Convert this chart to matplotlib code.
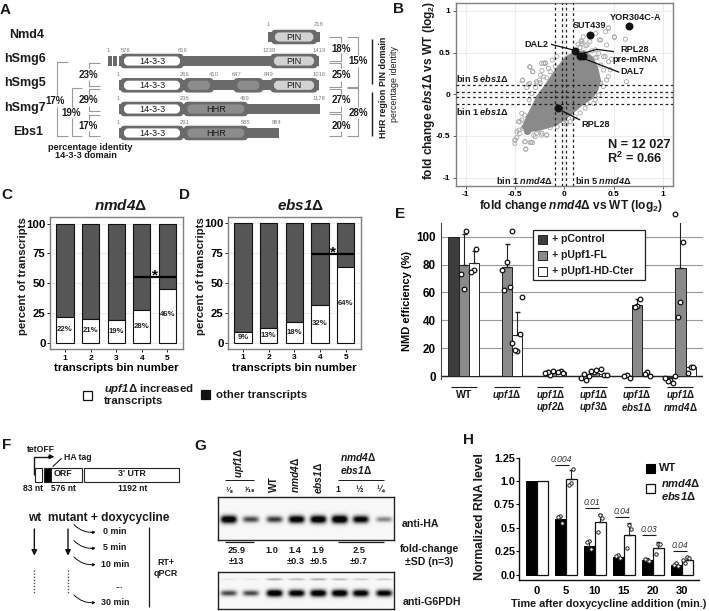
import numpy as np
import matplotlib
matplotlib.use('Agg')
import matplotlib.pyplot as plt
from matplotlib.patches import Rectangle, FancyBboxPatch, Polygon

plt.rcParams['font.family'] = ['Liberation Sans', 'DejaVu Sans']
plt.rcParams['mathtext.fontset'] = 'custom'
plt.rcParams['mathtext.rm'] = 'Liberation Sans:bold'
plt.rcParams['mathtext.it'] = 'Liberation Sans:italic:bold'
plt.rcParams['mathtext.bf'] = 'Liberation Sans:bold'
plt.rcParams['mathtext.cal'] = 'Liberation Sans:italic:bold'

W, H = 709, 611
DARK = '#6a6a6a'
# ---------- data ----------
# B
b_cloud_x = [-0.42,-0.37,-0.31,-0.27,-0.20,-0.13,-0.06,0.02,0.10,0.20,0.28,0.33,0.36,0.33,0.28,0.18,0.10,0.00,-0.10,-0.25,-0.36]
b_cloud_y = [-0.40,-0.27,-0.13,-0.03,0.08,0.20,0.32,0.44,0.49,0.51,0.44,0.32,0.16,0.05,-0.04,-0.12,-0.20,-0.30,-0.37,-0.42,-0.44]
b_out_x = [0.18,0.26,0.32,0.42,0.45,0.51,0.37,0.62,0.43,0.48,0.45,0.40,0.35,0.63,0.43,0.35,0.30,0.37,0.40,0.37,
           -0.23,-0.19,-0.35,-0.32,-0.16,-0.12,-0.42,-0.35,-0.28,-0.21,-0.38,-0.29,-0.33,-0.355,
           -0.50,-0.50,-0.48,-0.45,-0.46,-0.42,-0.38,-0.31,-0.23,-0.18,-0.39,-0.345,-0.32,-0.40,-0.28,-0.43,-0.40,-0.45,-0.345,-0.26,
           -0.07,-0.01,0.06,0.11,0.23,0.30,0.14,0.16,0.17,0.22,0.28,0.33,-0.25,-0.24,0.02,
           -0.345,-0.318,-0.21,-0.193,-0.226,-0.142,-0.091,-0.074,-0.426,-0.362,-0.277,-0.244,-0.176,0.447,0.508,0.355,0.193,0.18,0.23,0.162,0.315,0.416,0.467,0.447,0.365,0.396,0.315,
           -0.464,-0.43,-0.48,-0.497,-0.396,-0.335,-0.389,-0.294,-0.226,-0.176,-0.142,0.027,0.084,0.162,0.213,0.315]
b_out_y = [0.61,0.63,0.73,0.75,0.79,0.68,0.65,0.66,0.59,0.42,0.39,0.45,0.49,0.15,0.17,-0.01,0.09,0.13,0.29,0.35,
           0.37,0.37,0.33,0.27,0.31,0.41,0.17,0.13,0.15,0.21,0.08,0.08,0.01,-0.07,
           -0.59,-0.55,-0.52,-0.47,-0.43,-0.41,-0.44,-0.49,-0.49,-0.49,-0.66,-0.58,-0.58,-0.57,-0.47,-0.23,-0.25,-0.33,-0.35,-0.43,
           -0.39,-0.33,-0.33,-0.27,-0.11,-0.11,0.60,0.56,0.64,0.58,0.52,0.44,0.17,0.23,-0.36,
           0.324,0.271,0.372,0.376,0.283,0.271,0.331,0.451,0.163,0.112,0.132,0.136,0.196,0.796,0.688,0.652,0.688,0.631,0.592,0.556,0.532,0.451,0.292,0.211,0.136,0.091,0.436,
           -0.329,-0.309,-0.449,-0.549,-0.569,-0.576,-0.657,-0.509,-0.468,-0.489,-0.401,-0.341,-0.288,-0.225,-0.168,-0.068]
b_grey_x = [-0.38]
b_grey_y = [-0.44]
b_hi_x = [0.66,0.26,0.11,0.16,0.19,-0.065]
b_hi_y = [0.82,0.71,0.52,0.46,0.46,-0.17]
b_vlines = [-0.09,-0.027,0.02,0.088]
b_hlines = [0.116,0.024,-0.036,-0.12]
# C, D
bins = [1,2,3,4,5]
c_up = [22,20.5,19.5,28,45.5]
c_lab = ['22%','21%','19%','28%','46%']
d_up = [9,12.5,17.5,31.5,63.5]
d_lab = ['9%','13%','18%','32%','64%']
# E
e_groups = [['WT'],[r'$\mathcal{upf1}$Δ'],[r'$\mathcal{upf1}$Δ',r'$\mathcal{upf2}$Δ'],[r'$\mathcal{upf1}$Δ',r'$\mathcal{upf3}$Δ'],
            [r'$\mathcal{upf1}$Δ',r'$\mathcal{ebs1}$Δ'],[r'$\mathcal{upf1}$Δ',r'$\mathcal{nmd4}$Δ']]
e_ctrl = [100,0,0,0,0,-3]
e_fl   = [80,78,2.5,2.5,51,77.5]
e_hd   = [81,29.5,3,2,1.5,7]
e_fl_err = [102,95,None,None,55,112]
e_hd_err = [90,46,None,None,None,None]
e_ctrl_pts = [[],[],[],[2,-1,-2.8],[1,0.5,-1.5],[-3,-3.5,-4.5,-1,0]]
e_fl_pts = [[62.5,73,104],[82,62,64,76,104],[1,3,3.5,2.5],[3,3.5,4.5,0],[50,49.5,55],[53.5,42.5,96,116]]
e_hd_pts = [[76,75,91],[18,18.5,30,24,57],[3.5,3,2.5],[1,5.5,1],[3,2,0],[6.5,2.5,6.5]]
# G
g_lanes = [40,106,177,243,308,372,435,505]
g_ha = [0.95,0.55,0.6,0.9,0.95,1.0,0.85,0.35]
g_up = [0.05,0.05,0.25,0.2,0.25,0.2,0.14,0.14]
g_lo = [0.55,0.55,0.95,0.9,0.95,0.95,0.9,0.85]
# H
h_times = ['0','5','10','15','20','30']
h_wt = [1,0.59,0.31,0.19,0.16,0.10]
h_mut = [1,1.02,0.56,0.42,0.29,0.16]
h_wt_err = [None,0.63,0.36,0.21,0.18,0.12]
h_mut_err = [None,1.12,0.65,0.55,0.35,0.19]
h_wt_pts = [[],[0.63,0.62,0.55],[0.36,0.35,0.27],[0.21,0.20,0.18],[0.16,0.17,0.15],[0.12,0.10,0.09]]
h_mut_pts = [[],[0.98,0.96,1.13],[0.64,0.46,0.61],[0.53,0.28,0.49],[0.33,0.22,0.33],[0.19,0.12,0.18,0.16]]
h_p = ['0.004','0.01','0.04','0.03','0.04']

fig = plt.figure(figsize=(W/100, H/100), dpi=100, facecolor='white')

def axpx(l, t, r, b, **k):
    return fig.add_axes([l/W, 1-b/H, (r-l)/W, (b-t)/H], **k)

ov = fig.add_axes([0,0,1,1], zorder=10)
ov.set_xlim(0,W); ov.set_ylim(H,0); ov.axis('off'); ov.patch.set_alpha(0)

def T(x,y,s,size=7,weight='bold',ha='center',va='center',color='#1a1a1a',**k):
    return ov.text(x,y,s,fontsize=size,fontweight=weight,ha=ha,va=va,color=color,**k)
def L(xs,ys,color='#1a1a1a',lw=0.8,**k):
    ov.plot(xs,ys,color=color,lw=lw,solid_capstyle='butt',**k)

# panel letters
for s,x,y in [('A',5,10),('B',399,9),('C',7,195),('D',184,195),('E',400,214),('F',7,445),('G',200,446),('H',468,440)]:
    T(x,y,s,size=11)

# ---------- A ----------
Z = lambda v: v/3
def dom(x0,x1,yc,label,fc,pad=5):
    ov.add_patch(FancyBboxPatch((Z(x0)-pad+3,yc-6.5+2),Z(x1)-Z(x0)+2*pad-6,9,boxstyle='round,pad=0,rounding_size=3',
                 fc=DARK,ec=DARK,lw=4,zorder=2))
    ov.add_patch(FancyBboxPatch((Z(x0)+2,yc-2.5),Z(x1)-Z(x0)-4,5,boxstyle='round,pad=0,rounding_size=2.5',
                 fc=fc,ec=fc,lw=3,zorder=3))
    if label:
        T((Z(x0)+Z(x1))/2,yc,label,size=6.6,weight='normal',zorder=4)
def bar(x0,x1,yc):
    ov.add_patch(Rectangle((Z(x0),yc-5),Z(x1)-Z(x0),10,fc=DARK,ec='none',zorder=1))
y_rows = [37,61,85.3,109,133]
for name,x,y in [('Nmd4',26.5,35),('hSmg6',25,59),('hSmg5',25,83),('hSmg7',25,108),('Ebs1',28.5,132)]:
    T(x,y,name,size=9)
bar(805,960,y_rows[0]); dom(825,940,y_rows[0],'PIN','#d2d2d2')
bar(358,957,y_rows[1]); dom(372,540,y_rows[1],'14-3-3','white'); dom(822,942,y_rows[1],'PIN','#d2d2d2')
for a,b in [(325,335),(340,350)]:
    bar(a,b,y_rows[1])
bar(357,957,y_rows[2]); dom(372,540,y_rows[2],'14-3-3','white'); dom(563,630,y_rows[2],'','#8c8c8c'); dom(712,778,y_rows[2],'','#8c8c8c'); dom(822,942,y_rows[2],'PIN','#d2d2d2')
bar(358,960,y_rows[3]); dom(372,540,y_rows[3],'14-3-3','white'); dom(562,733,y_rows[3],'HHR','#8c8c8c')
bar(357,838,y_rows[4]); dom(372,540,y_rows[4],'14-3-3','white'); dom(562,733,y_rows[4],'HHR','#8c8c8c')
for y,items in [(24.5,[(806,'1'),(957,'218')]),(50,[(325,'1'),(378,'576'),(547,'816'),(806,'1239'),(957,'1419')]),
                (74.5,[(356,'1'),(553,'266'),(640,'410'),(709,'647'),(806,'849'),(957,'1016')]),
                (98,[(356,'1'),(553,'236'),(733,'499'),(957,'1178')]),(122.5,[(356,'1'),(553,'291'),(736,'585'),(830,'884')])]:
    for x,s in items:
        T(Z(x),y,s,size=4.2,weight='normal',color='#808080')
G='#9a9a9a'
def br(xo,xi,y0,y1,gap=None):
    if gap:
        L([Z(xi),Z(xo),Z(xo)],[Z(y0),Z(y0),Z(gap[0])],color=G); L([Z(xo),Z(xo),Z(xi)],[Z(gap[1]),Z(y1),Z(y1)],color=G)
    else:
        L([Z(xi),Z(xo),Z(xo),Z(xi)],[Z(y0),Z(y0),Z(y1),Z(y1)],color=G)
br(172,205,185,408,(285,320))
br(217,245,265,408,(320,355))
br(267,300,188,258,(205,240))
br(267,300,268,333,(285,318))
br(267,300,345,408,(360,392))
br(1022,988,112,182,(130,160))
br(1022,988,190,262,(205,242))
br(1022,988,268,335,(285,318))
br(1022,988,342,408,(360,392))
br(1075,1040,112,262,(165,200))
br(1075,1040,265,408,(320,355))
for x,y,s in [(165,302,'17%'),(212,338,'19%'),(265,224,'23%'),(265,300,'29%'),(265,377,'17%'),
              (1023,147,'18%'),(1023,224,'25%'),(1023,299,'27%'),(1023,377,'20%'),(1075,184,'15%'),(1075,338,'28%')]:
    T(Z(x),Z(y),s,size=7)
L([Z(1115)]*2,[Z(116),Z(252)],lw=1); L([Z(1115)]*2,[Z(275),Z(408)],lw=1)
T(383,61,'PIN domain',size=6.4,rotation=90)
T(383,113,'HHR region',size=6.4,rotation=90)
T(394.5,84,'percentage identity',size=6.4,weight='normal',rotation=90)
T(Z(270),Z(441),'percentage identity',size=6.6); T(Z(258),Z(467),'14-3-3 domain',size=6.6)

# ---------- B ----------
axb = axpx(455.7,3.3,672.7,185.7)
axb.set_xlim(-1.10,1.10); axb.set_ylim(-1.097,1.09)
axb.set_xticks([-1,-.5,0,.5,1]); axb.set_xticklabels(['-1','-0.5','0','0.5','1'])
axb.set_yticks([-1,-.5,0,.5,1]); axb.set_yticklabels(['-1','-0.5','0','0.5','1'])
axb.grid(color='#ececec',lw=0.8); axb.set_axisbelow(True)
axb.tick_params(labelsize=6,length=2,width=0.6,pad=2,color='#444444')
for l in axb.get_xticklabels()+axb.get_yticklabels(): l.set_fontweight('bold')
for s in axb.spines.values(): s.set_color('#7f7f7f'); s.set_linewidth(1)
axb.scatter(b_out_x,b_out_y,s=9,fc='none',ec='#a8a8a8',lw=0.6,zorder=2)
axb.scatter(b_grey_x,b_grey_y,s=16,c='#8a8a8a',zorder=2)
axb.add_patch(Polygon(np.column_stack([b_cloud_x,b_cloud_y]),closed=True,fc='#8a8a8a',ec='#8a8a8a',lw=2,joinstyle='round',zorder=3))
for v in b_vlines: axb.axvline(v,color='#222222',lw=0.9,ls=(0,(2.2,2.2)),zorder=4)
for v in b_hlines: axb.axhline(v,color='#222222',lw=0.9,ls=(0,(2.2,2.2)),zorder=4)
axb.scatter(b_hi_x,b_hi_y,s=22,c='#111111',zorder=5)
bt = lambda zx,zy,s,size=6.6,ha='center': T(390+zx/3,zy/3,s,size=size,ha=ha)
bt(738,53,'YOR304C-A'); bt(598,77,'SUT439'); bt(439,133,'DAL2'); bt(734,149,'RPL28'); bt(735,177,'pre-mRNA')
bt(728,213,'DAL7'); bt(616,373,'RPL28'); bt(277,235,r'bin 5 $\mathcal{ebs1}$Δ'); bt(277,334,r'bin 1 $\mathcal{ebs1}$Δ')
bt(402,541,r'bin 1 $\mathcal{nmd4}$Δ'); bt(639,541,r'bin 5 $\mathcal{nmd4}$Δ')
bt(748,434,'N = 12 027',size=9.2); bt(735,475,'R$^2$ = 0.66',size=9.2)
zl = lambda xs,ys,**k: L([390+v/3 for v in xs],[v/3 for v in ys],lw=0.9,color='#111111',**k)
zl([483,550],[133,150]); zl([580,620,672],[160,148,155]); zl([585,688],[177,217]); zl([515,570],[332,360])
T(390+542/3,620/3-1,r'fold change $\mathcal{nmd4}$Δ vs WT (log$_2$)',size=8.6)
T(390+118/3,272/3,r'fold change $\mathcal{ebs1}$Δ vs WT (log$_2$)',size=8.6,rotation=90)

# ---------- C / D ----------
def stacked(ax,up,lab,sig,title_x,title):
    ax.set_ylim(-4.95,105.2); ax.set_xlim(0.4,5.6)
    ax.set_yticks([0,25,50,75,100]); ax.set_xticks(bins)
    ax.grid(axis='y',color='#ececec',lw=0.8); ax.set_axisbelow(True)
    ax.bar(bins,[100-u for u in up],bottom=up,width=0.68,color='#565656',ec='#111111',lw=0.8,zorder=2)
    ax.bar(bins,up,width=0.68,color='white',ec='#111111',lw=0.8,zorder=2)
    for b,u,s in zip(bins,up,lab):
        ax.text(b,u/2 if u<30 else u*0.5+(1 if u>40 else 0),s,fontsize=5.6,fontweight='bold',ha='center',va='center',color='#222222',zorder=3)
    ax.plot([3.67,5.33],[sig,sig],color='black',lw=1.6,zorder=4,solid_capstyle='butt')
    ax.text(4.5,sig+1,'*',fontsize=11,fontweight='bold',ha='center',va='center',zorder=4)
    ax.tick_params(axis='y',labelsize=8.2,length=2,width=0.6,pad=1)
    ax.tick_params(axis='x',labelsize=6,length=2,width=0.6,pad=2)
    for l in ax.get_xticklabels()+ax.get_yticklabels(): l.set_fontweight('bold')
    for s in ax.spines.values(): s.set_color('#7f7f7f'); s.set_linewidth(1)
    ax.set_xlabel('transcripts bin number',fontsize=8.2,fontweight='bold',labelpad=1)
    T(title_x,205,title,size=11)
axc = axpx(49.7,217.3,182.7,349); stacked(axc,c_up,c_lab,55.5,121,r'$\mathcal{nmd4}$Δ')
axd = axpx(227.7,216.7,361,348.7); stacked(axd,d_up,d_lab,74,301,r'$\mathcal{ebs1}$Δ')
T(23,276,'percent of transcripts',size=8.2,rotation=90)
T(201,276,'percent of transcripts',size=8.2,rotation=90)
ov.add_patch(Rectangle((83,391),9,9,fc='white',ec='#111111',lw=0.9))
T(104,389.5,r'$\mathcal{upf1}$Δ increased',size=8.2,ha='left'); T(104,401,'transcripts',size=8.2,ha='left')
ov.add_patch(Rectangle((201,390),9,9,fc='#111111',ec='#111111',lw=0.9))
T(216,394.5,'other transcripts',size=8.2,ha='left')

# ---------- E ----------
axe = axpx(441.3,223,703,379)
axe.set_xlim(-0.517,5.52)
axe.set_ylim((376.3-379)/1.397,(376.3-223)/1.397)
axe.spines[['top','right','bottom']].set_visible(False)
axe.spines['left'].set_color('#444444')
axe.set_yticks([0,20,40,60,80,100]); axe.set_xticks([])
axe.grid(axis='y',color='#9a9a9a',lw=0.8); axe.set_axisbelow(True)
axe.axhline(0,color='#222222',lw=1,zorder=1.5)
axe.tick_params(axis='y',labelsize=8.4,length=0,pad=4)
for l in axe.get_yticklabels(): l.set_fontweight('bold')
axe.set_ylabel('NMD efficiency (%)',fontsize=8,fontweight='bold',labelpad=3)
bw = 0.235
xs = np.arange(6)
skip = lambda v: [x if x != 0 else np.nan for x in v]
axe.bar(xs-bw,skip(e_ctrl),bw,color='#3d3d3d',ec='#222222',lw=0.7,zorder=2)
axe.bar(xs,e_fl,bw,color='#8a8a8a',ec='#222222',lw=0.7,zorder=2)
axe.bar(xs+bw,e_hd,bw,color='white',ec='#222222',lw=0.7,zorder=2)
for i in range(6):
    if e_fl_err[i]: axe.errorbar(i,e_fl[i],yerr=[[0],[e_fl_err[i]-e_fl[i]]],color='#222222',lw=0.8,capsize=1.8,zorder=3)
    if e_hd_err[i]: axe.errorbar(i+bw,e_hd[i],yerr=[[0],[e_hd_err[i]-e_hd[i]]],color='#222222',lw=0.8,capsize=1.8,zorder=3)
    for off,pts in [(-bw,e_ctrl_pts[i]),(0,e_fl_pts[i]),(bw,e_hd_pts[i])]:
        n=len(pts)
        dx = [(-1)**k*0.06*((k+1)//2) for k in range(n)]
        axe.scatter([i+off+d for d in dx],pts,s=11,fc='white',ec='#111111',lw=0.9,zorder=4,clip_on=False)
    xc = 463.7+43.3*i
    L([xc-13,xc+13],[387,387],lw=0.8)
    for j,s in enumerate(e_groups[i]):
        T(xc,394.5+j*12.5,s,size=7 if i else 7.6)
ov.add_patch(Rectangle((533.3,230),111.7,50,fc='white',ec='#222222',lw=0.9,zorder=5))
for y,c,s in [(239,'#3d3d3d','+ pControl'),(255,'#8a8a8a','+ pUpf1-FL'),(271,'white','+ pUpf1-HD-Cter')]:
    ov.add_patch(Rectangle((538,y-4.5),9,9,fc=c,ec='#222222',lw=0.7,zorder=6))
    T(552,y,s,size=7.6,ha='left',zorder=6)

# ---------- F ----------
fx = lambda v: v/3
fy = lambda v: 425+v/3
def flin(xs,ys,**k): L([fx(v) for v in xs],[fy(v) for v in ys],**k)
for x0,x1,c in [(105,127,'white'),(132,153,'#000000'),(153,247,'white'),(253,537,'white')]:
    ov.add_patch(Rectangle((fx(x0),fy(128)),fx(x1)-fx(x0),44/3,fc=c,ec='#222222',lw=0.8))
T(fx(190),fy(147),'ORF',size=6.4); T(fx(395),fy(147),"3' UTR",size=6.4)
T(fx(99),fy(190),'83 nt',size=6.2); T(fx(190),fy(190),'576 nt',size=6.2); T(fx(397),fy(190),'1192 nt',size=6.2)
T(fx(123),fy(73),'tetOFF',size=6.2); T(fx(232),fy(97),'HA tag',size=6.2)
flin([103,103,148],[150,95,95],lw=1)
ov.annotate('',xy=(fx(163),fy(95)),xytext=(fx(145),fy(95)),arrowprops=dict(arrowstyle='-|>',color='#111111',lw=0.8,mutation_scale=7,shrinkA=0,shrinkB=0))
flin([158,185],[125,100],lw=0.8)
T(fx(104),fy(280),'wt',size=8.6); T(fx(325),fy(280),'mutant + doxycycline',size=8.6)
for x in (103,204):
    ov.annotate('',xy=(fx(x),fy(392)),xytext=(fx(x),fy(312)),arrowprops=dict(arrowstyle='-|>',color='#111111',lw=1,mutation_scale=8,shrinkA=0,shrinkB=0))
    ov.plot([fx(x)]*2,[fy(435),fy(508)],color='#555555',lw=1,ls=(0,(1,1.2)))
for y,s in [(321,'0 min'),(369,'5 min'),(418,'10 min'),(532,'30 min')]:
    ov.annotate('',xy=(fx(287),fy(y)),xytext=(fx(222),fy(y-22)),arrowprops=dict(arrowstyle='-|>',color='#111111',lw=0.7,mutation_scale=4,shrinkA=0,shrinkB=0,connectionstyle='arc3,rad=0.25'))
    T(fx(345),fy(y),s,size=6.4)
T(fx(357),fy(481),'...',size=6.4)
flin([448,448],[305,545],lw=0.9)
T(fx(498),fy(412),'RT+',size=6.4); T(fx(498),fy(446),'qPCR',size=6.4)

# ---------- G ----------
def blot(l,t,r,b,rows):
    ax = axpx(l,t,r,b)
    nx,ny = int(r-l)*3,int(b-t)*3
    X,Y = np.meshgrid(np.linspace(l,r,nx),np.linspace(t,b,ny))
    im = np.zeros_like(X)
    for yc,sy,vals in rows:
        for lx,v in zip(g_lanes,vals):
            xc = 215+lx/3
            sx = 8
            im += v*np.exp(-((X-xc)/sx)**4)*np.exp(-((Y-yc)/(sy*(0.55+0.55*v)))**2)
    ax.imshow(0.97-np.clip(im*1.35,0,1)*0.95,cmap='gray',vmin=0,vmax=1,extent=(l,r,b,t),aspect='auto',interpolation='bilinear')
    ax.set_xticks([]); ax.set_yticks([])
    for s in ax.spines.values(): s.set_color('#222222'); s.set_linewidth(1)
blot(217.7,496.7,394,540,[(519.7,3.6,g_ha)])
blot(217.7,572.3,394,609.3,[(579.5,1.6,g_up),(593.5,3.3,g_lo)])
gx = lambda v: 215+v/3
gy = lambda v: 425+v/3
T(gx(72),gy(115),r'$\mathcal{upf1}$Δ',size=7.2,rotation=90)
L([gx(30),gx(118)],[gy(166)]*2,lw=0.7)
T(gx(41),gy(195),'⅛',size=5.5); T(gx(104),gy(195),'¹⁄₁₆',size=5.5)
T(gx(176),gy(178),'WT',size=7.4,rotation=90)
T(gx(240),gy(150),r'$\mathcal{nmd4}$Δ',size=7.4,rotation=90)
T(gx(308),gy(158),r'$\mathcal{ebs1}$Δ',size=7.4,rotation=90)
T(gx(430),gy(96),r'$\mathcal{nmd4}$Δ',size=7.4); T(gx(424),gy(135),r'$\mathcal{ebs1}$Δ',size=7.4)
L([gx(368),gx(508)],[gy(166)]*2,lw=0.7)
T(gx(369),gy(195),'1',size=6.4); T(gx(433),gy(195),'½',size=6.4); T(gx(497),gy(195),'¼',size=6.4)
T(gx(618),gy(296),'anti-HA',size=7.6); T(gx(651),gy(530),'anti-G6PDH',size=7.6)
L([gx(30),gx(118)],[gy(352)]*2,lw=0.9); L([gx(368),gx(508)],[gy(352)]*2,lw=0.9)
for x,y,s in [(65,376,'25.9'),(65,410,'±13'),(172,376,'1.0'),(241,376,'1.4'),(241,410,'±0.3'),(310,376,'1.9'),(310,410,'±0.5'),(431,376,'2.5'),(431,410,'±0.7')]:
    T(gx(x),gy(y),s,size=6.6)
T(gx(642),gy(373),'fold-change',size=7.6); T(gx(642),gy(410),'±SD (n=3)',size=7.6)

# ---------- H ----------
axh = axpx(519.3,455,699,580)
px0=537; step=28.93
axh.set_xlim((519.3-px0)/step,(699-px0)/step)
axh.set_ylim((574.7-580)/93.7,(574.7-455)/93.7)
axh.spines[['top','right']].set_visible(False)
axh.spines['left'].set_bounds(axh.get_ylim()[0],1.25)
for s in ('left','bottom'): axh.spines[s].set_color('#111111'); axh.spines[s].set_linewidth(1)
axh.set_yticks([0,.25,.5,.75,1,1.25]); axh.set_yticklabels(['0.0','0.25','0.5','0.75','1.0','1.25'])
xh = np.arange(6); axh.set_xticks(xh); axh.set_xticklabels(h_times)
axh.tick_params(axis='y',labelsize=7.8,length=2,width=0.8,pad=1)
axh.tick_params(axis='x',labelsize=8,length=0,pad=4)
for l in axh.get_xticklabels()+axh.get_yticklabels(): l.set_fontweight('bold')
w = 11/step
axh.bar(xh-w/2,h_wt,w,color='black',ec='black',lw=0.7,zorder=2)
axh.bar(xh+w/2,h_mut,w,color='white',ec='#111111',lw=0.9,zorder=2)
for i in range(6):
    if h_wt_err[i]: axh.errorbar(i-w/2,h_wt[i],yerr=[[0],[h_wt_err[i]-h_wt[i]]],color='#222222',lw=0.7,capsize=1.5,zorder=3)
    if h_mut_err[i]: axh.errorbar(i+w/2,h_mut[i],yerr=[[0],[h_mut_err[i]-h_mut[i]]],color='#222222',lw=0.7,capsize=1.5,zorder=3)
    for off,pts in [(-w/2,h_wt_pts[i]),(w/2,h_mut_pts[i])]:
        dx = [(-1)**k*0.07*((k+1)//2) for k in range(len(pts))]
        axh.scatter([i+off+d for d in dx],pts,s=6,fc='white',ec='#222222',lw=0.7,zorder=4)
hx = lambda v: 480+v/3
hy = lambda v: 425+v/3
for i,(s,xc,yt,yl) in enumerate(zip(h_p,[245,336,425,507,599],[103,232,259,314,362],[119,249,276,331,379])):
    T(hx(xc),hy(yt),s,size=6.2,weight='normal',style='italic',color='#333333')
    L([hx(xc-21),hx(xc+21)],[hy(yl)]*2,lw=0.8)
T(hx(385),hy(537),'Time after doxycycline addition (min.)',size=7.8)
T(480,517,'Normalized RNA level',size=8.8,rotation=90)
ov.add_patch(Rectangle((hx(497),hy(118)),9,9,fc='#000000',ec='#000000',lw=0.8))
T(hx(538),hy(129),'WT',size=8,ha='left')
ov.add_patch(Rectangle((hx(497),hy(177)),9,9,fc='white',ec='#111111',lw=0.9))
T(hx(542),hy(173),r'$\mathcal{nmd4}$Δ',size=8,ha='left'); T(hx(542),hy(212),r'$\mathcal{ebs1}$Δ',size=8,ha='left')

fig.savefig('out.png',dpi=100)
